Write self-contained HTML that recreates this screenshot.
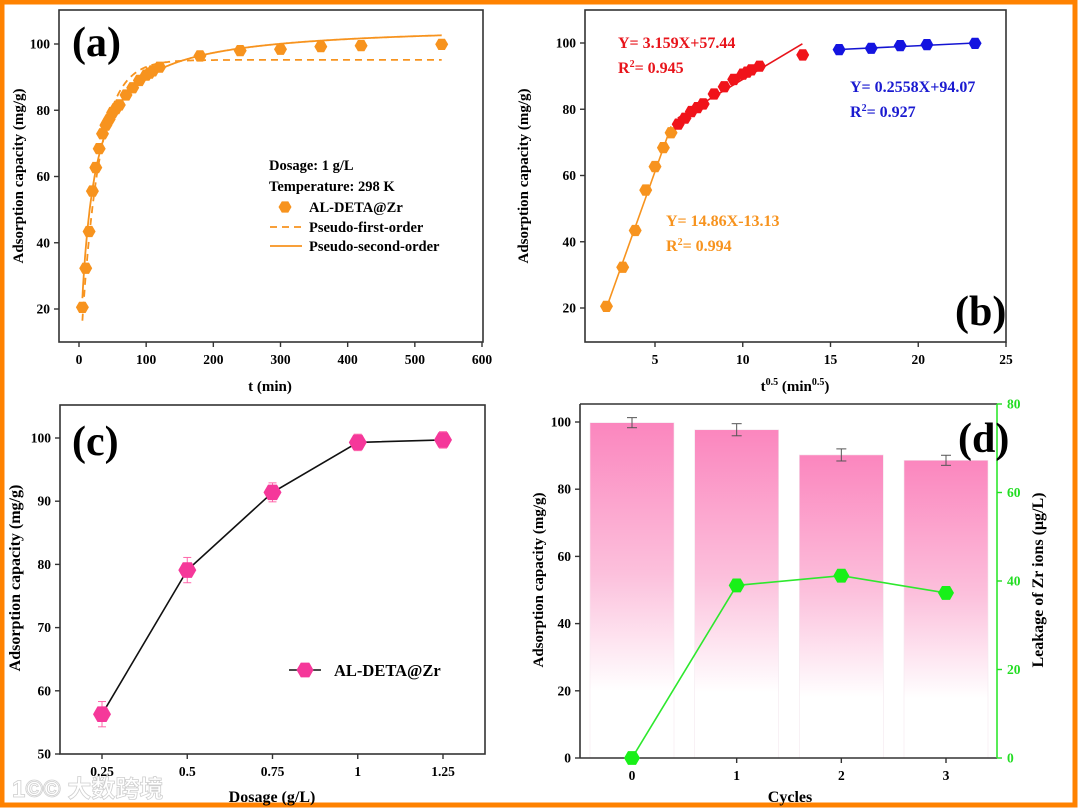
<!DOCTYPE html>
<html><head><meta charset="utf-8"><style>
html,body{margin:0;padding:0;background:#fff;}
svg{display:block;font-family:"Liberation Serif",serif;font-weight:bold;}
</style></head><body>
<svg id="s" width="1080" height="810" viewBox="0 0 1080 810" xmlns="http://www.w3.org/2000/svg">
<defs>
<linearGradient id="pg" x1="0" y1="0" x2="0" y2="1">
<stop offset="0" stop-color="#fb86be"/><stop offset="0.45" stop-color="#fcc0dc"/><stop offset="0.8" stop-color="#ffffff"/>
</linearGradient>
</defs>
<rect x="2" y="2" width="1073" height="803" fill="none" stroke="#ff8200" stroke-width="5"/>
<g id="g"></g>
<text x="12" y="797" font-size="24" fill="#fff" stroke="#cfcfcf" stroke-width="0.8" font-family="'Liberation Sans','Noto Sans CJK SC',sans-serif">1©© 大数跨境</text>
</svg>
<script>
// Panel (a)/(b) data
const tMin=[5,10,15,20,25,30,35,40,45,50,55,60,70,80,90,100,105,110,120,180,240,300,360,420,540];
const qt=[20.5,32.3,43.4,55.6,62.7,68.4,72.9,75.5,77.3,79.3,80.5,81.6,84.6,86.8,89,90.6,91.2,91.9,93,96.4,98,98.4,99.2,99.5,99.9];
const pfoQe=95.2, pfoK=0.038;
const psoQe=106, psoKQe=0.0562;
const fitOrange=[14.86,-13.13], fitRed=[3.159,57.44], fitBlue=[0.2558,94.07];
// Panel (c)
const dosage=[0.25,0.5,0.75,1,1.25];
const dosageQ=[56.3,79.1,91.4,99.3,99.7];
const dosageErr=[2,2,1.5,1.3,1.3];
// Panel (d)
const cycles=[0,1,2,3];
const cycleQ=[99.8,97.7,90.2,88.6];
const cycleErr=[1.5,1.8,1.8,1.5];
const leak=[0,39,41.2,37.3];
const aXTicks=[0,100,200,300,400,500,600], abYTicks=[20,40,60,80,100];
const bXTicks=[5,10,15,20,25], cYTicks=[50,60,70,80,90,100];
const dYTicks=[0,20,40,60,80,100], dRTicks=[0,20,40,60,80];

const NS="http://www.w3.org/2000/svg", G=document.getElementById('g');
function el(t,a,p){const e=document.createElementNS(NS,t);for(const k in a)e.setAttribute(k,a[k]);(p||G).appendChild(e);return e;}
function txt(x,y,s,a){const e=el('text',Object.assign({x:x,y:y},a||{}));e.textContent=s;return e;}
function hex(cx,cy,r,fill,name){let p=[];for(let i=0;i<6;i++){const a=Math.PI/3*i;p.push((cx+r*Math.cos(a)).toFixed(1)+','+(cy+r*Math.sin(a)).toFixed(1));}
 const e=el('polygon',{points:p.join(' '),fill:fill});
 
 
 return e;}
function lin(d0,d1,p0,p1){return v=>p0+(v-d0)*(p1-p0)/(d1-d0);}
function box(x0,y0,x1,y1,name){const e=el('rect',{x:x0,y:y0,width:x1-x0,height:y1-y0,fill:'none',stroke:'#333','stroke-width':1.6});
 
 }
function xticks(ticks,X,y){ticks.forEach(t=>{el('line',{x1:X(t),x2:X(t),y1:y,y2:y+5,stroke:'#333','stroke-width':1.4});
 const e=txt(X(t),y+22,t,{'font-size':13.5,'text-anchor':'middle'});
 
 });}
function yticks(ticks,Y,x,col,right){ticks.forEach(t=>{el('line',{x1:x,x2:right?x+5:x-5,y1:Y(t),y2:Y(t),stroke:col||'#333','stroke-width':1.4});
 const e=txt(right?x+10:x-9,Y(t)+4.5,t,{'font-size':13.5,'text-anchor':right?'start':'end',fill:col||'#000'});
 
 });}
function vtitle(x,y,s,name,size){const e=txt(x,y,s,{'font-size':size||15,'text-anchor':'middle',transform:`rotate(-90 ${x} ${y})`});
 
 return e;}
function poly(pts,attrs,name){const e=el('polyline',Object.assign({points:pts.map(p=>p[0].toFixed(1)+','+p[1].toFixed(1)).join(' '),fill:'none'},attrs));
 
 return e;}
const OR='#f7931e';

// ---------- (a)
{const X=lin(0,600,79,482),Y=lin(20,100,309,44);
 box(59,10,483,342,'panel-a-plot-area');xticks(aXTicks,X,342);yticks(abYTicks,Y,59);
 let p1=[],p2=[];for(let t=5;t<=540;t+=1){p1.push([X(t),Y(pfoQe*(1-Math.exp(-pfoK*t)))]);p2.push([X(t),Y(psoQe*psoKQe*t/(1+psoKQe*t))]);}
 poly(p1,{stroke:OR,'stroke-width':1.8,'stroke-dasharray':'7,5'},'pseudo-first-order-curve');
 poly(p2,{stroke:OR,'stroke-width':1.8},'pseudo-second-order-curve');
 tMin.forEach((t,i)=>hex(X(t),Y(qt[i]),6.5,OR,'kinetics-point'));
 let e=txt(72,56,'(a)',{'font-size':42});
 e=txt(270,391,'t (min)',{'font-size':15,'text-anchor':'middle'});
 vtitle(23,176,'Adsorption capacity (mg/g)','y-axis-title-a');
 txt(269,170,'Dosage: 1 g/L',{'font-size':14.5});txt(269,191,'Temperature: 298 K',{'font-size':14.5});
 hex(285,207,6.5,OR,'legend-marker-a');txt(309,212,'AL-DETA@Zr',{'font-size':14.5});
 el('line',{x1:270,x2:302,y1:227,y2:227,stroke:OR,'stroke-width':1.8,'stroke-dasharray':'7,5'});txt(309,232,'Pseudo-first-order',{'font-size':14.5});
 el('line',{x1:270,x2:302,y1:246,y2:246,stroke:OR,'stroke-width':1.8});txt(309,251,'Pseudo-second-order',{'font-size':14.5});}

// ---------- (b)
{const X=lin(5,25,655,1006),Y=lin(20,100,308,43);
 box(585,10,1006,342,'panel-b-plot-area');xticks(bXTicks,X,342);yticks(abYTicks,Y,585);
 const L=(f,a,b,c,n)=>poly([[X(a),Y(f[0]*a+f[1])],[X(b),Y(f[0]*b+f[1])]],{stroke:c,'stroke-width':1.6},n);
 L(fitOrange,2.24,5.92,OR,'fit-line-stage1');L(fitRed,6.3,13.4,'#e8141b','fit-line-stage2');L(fitBlue,15.49,23.24,'#1414d2','fit-line-stage3');
 tMin.forEach((t,i)=>{const s=Math.sqrt(t);const c=i<=6?OR:(i<=19?'#f0131a':'#1414e0');hex(X(s),Y(qt[i]),6.5,c,'intraparticle-point');});
 const T=(x,y,s,c)=>{const e=txt(x,y,'',{'font-size':16,fill:c});e.innerHTML=s;return e;};
 T(618,48,'Y= 3.159X+57.44','#e8141b');T(618,73,'R<tspan font-size="10" dy="-6">2</tspan><tspan dy="6">= 0.945</tspan>','#e8141b');
 T(850,92,'Y= 0.2558X+94.07','#1a1ad0');T(850,117,'R<tspan font-size="10" dy="-6">2</tspan><tspan dy="6">= 0.927</tspan>','#1a1ad0');
 T(666,226,'Y= 14.86X-13.13',OR);T(666,251,'R<tspan font-size="10" dy="-6">2</tspan><tspan dy="6">= 0.994</tspan>',OR);
 let e=txt(955,325,'(b)',{'font-size':42});
 e=txt(795,391,'',{'font-size':15,'text-anchor':'middle'});e.innerHTML='t<tspan font-size="10" dy="-6">0.5</tspan><tspan dy="6"> (min</tspan><tspan font-size="10" dy="-6">0.5</tspan><tspan dy="6">)</tspan>';
 
 vtitle(528,176,'Adsorption capacity (mg/g)','y-axis-title-b');}

// ---------- (c)
{const X=lin(0.25,1.25,102,443),Y=lin(50,100,754,438);
 box(60,405,485,754,'panel-c-plot-area');xticks(dosage,X,754);yticks(cYTicks,Y,60);
 poly(dosage.map((d,i)=>[X(d),Y(dosageQ[i])]),{stroke:'#111','stroke-width':1.6},'dosage-line');
 dosage.forEach((d,i)=>{el('line',{x1:X(d),x2:X(d),y1:Y(dosageQ[i]-dosageErr[i]),y2:Y(dosageQ[i]+dosageErr[i]),stroke:'#f6a','stroke-width':1});
  el('line',{x1:X(d)-4,x2:X(d)+4,y1:Y(dosageQ[i]+dosageErr[i]),y2:Y(dosageQ[i]+dosageErr[i]),stroke:'#f6a','stroke-width':1});
  el('line',{x1:X(d)-4,x2:X(d)+4,y1:Y(dosageQ[i]-dosageErr[i]),y2:Y(dosageQ[i]-dosageErr[i]),stroke:'#f6a','stroke-width':1});
  hex(X(d),Y(dosageQ[i]),9,'#f5389a','dosage-point');});
 el('line',{x1:289,x2:321,y1:670,y2:670,stroke:'#111','stroke-width':1.6});hex(305,670,8.5,'#f5389a','legend-marker-c');
 txt(334,676,'AL-DETA@Zr',{'font-size':16.5});
 let e=txt(72,455,'(c)',{'font-size':42});
 e=txt(272,802,'Dosage (g/L)',{'font-size':16,'text-anchor':'middle'});
 vtitle(20,578,'Adsorption capacity (mg/g)','y-axis-title-c',16);}

// ---------- (d)
{const X=lin(0,3,632,946),Y=lin(0,100,758,422),YR=lin(0,80,758,404);
 cycles.forEach((c,i)=>{const r=el('rect',{x:X(c)-42,y:Y(cycleQ[i]),width:84,height:Y(0)-Y(cycleQ[i]),fill:'url(#pg)',stroke:'#f3e8ee','stroke-width':0.6});
  
  
  const a=Y(cycleQ[i]+cycleErr[i]),b=Y(cycleQ[i]-cycleErr[i]);
  el('line',{x1:X(c),x2:X(c),y1:a,y2:b,stroke:'#555','stroke-width':1});
  el('line',{x1:X(c)-5,x2:X(c)+5,y1:a,y2:a,stroke:'#555','stroke-width':1});el('line',{x1:X(c)-5,x2:X(c)+5,y1:b,y2:b,stroke:'#555','stroke-width':1});});
 el('line',{x1:580,x2:580,y1:404,y2:758,stroke:'#333','stroke-width':1.6});
 el('line',{x1:580,x2:997,y1:404,y2:404,stroke:'#333','stroke-width':1.6});
 el('line',{x1:580,x2:997,y1:758,y2:758,stroke:'#333','stroke-width':1.6});
 el('line',{x1:997,x2:997,y1:404,y2:758,stroke:'#2ee82e','stroke-width':1.6});
 xticks(cycles,X,758);yticks(dYTicks,Y,580);yticks(dRTicks,YR,997,'#22dd22',true);
 poly(cycles.map((c,i)=>[X(c),YR(leak[i])]),{stroke:'#2ee82e','stroke-width':1.6},'leakage-line');
 cycles.forEach((c,i)=>hex(X(c),YR(leak[i]),8,'#18f018','leakage-point'));
 let e=txt(958,452,'(d)',{'font-size':42});
 e=txt(790,802,'Cycles',{'font-size':16,'text-anchor':'middle'});
 vtitle(543,580,'Adsorption capacity (mg/g)','y-axis-title-d');
 vtitle(1043,580,'Leakage of Zr ions (μg/L)','y2-axis-title-d',16);}
</script>
</body></html>
